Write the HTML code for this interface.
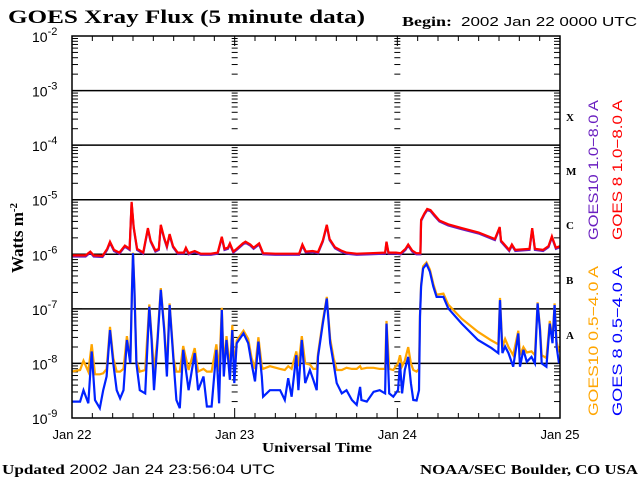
<!DOCTYPE html>
<html><head><meta charset="utf-8"><style>
html,body{margin:0;padding:0;background:#fff;}
svg{display:block;}
.serif{font-family:"Liberation Serif",serif;font-weight:bold;}
.sans{font-family:"Liberation Sans",sans-serif;}
</style></head><body>
<svg id="chart" width="640" height="480" viewBox="0 0 640 480">
<text x="8" y="23" class="serif" font-size="19" textLength="357" lengthAdjust="spacingAndGlyphs">GOES Xray Flux (5 minute data)</text>
<text x="402" y="26" class="serif" font-size="14" textLength="50" lengthAdjust="spacingAndGlyphs">Begin:</text>
<text x="461" y="26" class="sans" font-size="13" textLength="176" lengthAdjust="spacingAndGlyphs">2002 Jan 22 0000 UTC</text>
<text transform="translate(23,238) rotate(-90)" text-anchor="middle" class="serif" font-size="17">Watts m<tspan dy="-6" font-size="11">-2</tspan></text>
<text x="262" y="452" class="serif" font-size="14" textLength="110" lengthAdjust="spacingAndGlyphs">Universal Time</text>
<text x="2" y="474" class="sans" font-size="14" textLength="273" lengthAdjust="spacingAndGlyphs"><tspan class="serif">Updated</tspan> 2002 Jan 24 23:56:04 UTC</text>
<text x="420" y="474" class="serif" font-size="14" textLength="218" lengthAdjust="spacingAndGlyphs">NOAA/SEC Boulder, CO USA</text>
<g class="serif" font-size="11">
<text x="566" y="121">X</text>
<text x="566" y="175">M</text>
<text x="566" y="229">C</text>
<text x="566" y="284">B</text>
<text x="566" y="339">A</text>
</g>
<g class="sans" font-size="14">
<text transform="translate(598,240) rotate(-90)" fill="#6a1fc0" textLength="140" lengthAdjust="spacingAndGlyphs">GOES10 1.0−8.0 A</text>
<text transform="translate(622,240) rotate(-90)" fill="#ff0000" textLength="140" lengthAdjust="spacingAndGlyphs">GOES 8 1.0−8.0 A</text>
<text transform="translate(598,416) rotate(-90)" fill="#ffa500" textLength="150" lengthAdjust="spacingAndGlyphs">GOES10 0.5−4.0 A</text>
<text transform="translate(622,416) rotate(-90)" fill="#0000ff" textLength="150" lengthAdjust="spacingAndGlyphs">GOES 8 0.5−4.0 A</text>
</g>
<g id="axes"></g>
<g id="series"></g>
<rect x="72" y="36" width="488" height="382" fill="none" stroke="#000" stroke-width="1.5"/>
</svg>
<script>
const dayLabels = ["Jan 22","Jan 23","Jan 24","Jan 25"];
const decadeExps = [-2,-3,-4,-5,-6,-7,-8,-9];

const longTimes = [0,2.0,2.7,3.2,4.5,5.2,5.6,6.2,7.0,7.8,8.5,8.8,9.1,9.6,10.5,11.2,11.6,12.3,12.8,13.1,13.6,14.0,14.4,14.9,15.6,16.5,16.8,17.2,18.1,19,20.5,21.5,22.1,22.5,23.0,23.3,23.8,
24.3,25.2,25.6,26.3,26.8,27.6,28.2,30,32,33.5,34.0,34.5,35.5,36.3,37.0,37.6,38.0,38.8,39.7,40.5,42,44,46.2,46.4,46.7,47.8,
48.5,49.2,49.6,50.2,50.8,51.4,51.5,52.0,52.4,52.9,53.5,54.2,55.5,57.5,60,62.4,63.1,63.3,64.5,64.9,65.4,67.5,67.9,68.3,69.5,70.3,70.8,71.4,72];
const goes8LongLog = [-6.02,-6.02,-5.95,-6.02,-6.03,-5.9,-5.77,-5.92,-5.97,-5.84,-5.9,-5.04,-5.5,-5.9,-5.97,-5.52,-5.75,-5.93,-5.9,-5.46,-5.7,-5.85,-5.63,-5.85,-5.97,-5.97,-5.88,-5.98,-5.94,-5.99,-5.99,-5.97,-5.68,-5.9,-5.88,-5.8,-5.95,
-5.9,-5.8,-5.77,-5.82,-5.88,-5.8,-5.98,-5.99,-5.99,-5.99,-5.82,-5.95,-5.94,-5.96,-5.75,-5.46,-5.72,-5.87,-5.93,-5.97,-5.99,-5.98,-5.97,-5.77,-5.97,-5.97,
-5.98,-5.9,-5.82,-5.93,-5.98,-5.98,-5.37,-5.25,-5.17,-5.19,-5.28,-5.38,-5.45,-5.52,-5.6,-5.72,-5.5,-5.75,-5.92,-5.82,-5.92,-5.9,-5.52,-5.9,-5.92,-5.85,-5.67,-5.88,-5.85];
const goes10LongLog = [-6.04,-6.04,-5.97,-6.04,-6.05,-5.92,-5.79,-5.94,-5.99,-5.86,-5.92,-5.06,-5.52,-5.92,-5.99,-5.54,-5.77,-5.95,-5.92,-5.48,-5.72,-5.87,-5.65,-5.87,-5.99,-5.99,-5.9,-6.0,-5.96,-6.01,-6.01,-5.99,-5.7,-5.92,-5.9,-5.82,-5.97,
-5.92,-5.82,-5.79,-5.84,-5.9,-5.82,-6.0,-6.01,-6.01,-6.01,-5.84,-5.97,-5.96,-5.98,-5.77,-5.48,-5.74,-5.89,-5.95,-5.99,-6.01,-6.0,-5.99,-5.79,-5.99,-5.99,
-6.0,-5.92,-5.84,-5.95,-6.0,-6.0,-5.39,-5.27,-5.19,-5.21,-5.3,-5.4,-5.47,-5.54,-5.62,-5.74,-5.52,-5.77,-5.94,-5.84,-5.94,-5.92,-5.54,-5.92,-5.94,-5.87,-5.69,-5.9,-5.87];

const shortTimes = [0,1.2,1.7,2.4,2.9,3.4,4.1,4.6,5.1,5.6,6.1,6.6,7.1,7.6,8.1,8.6,8.85,9.0,9.2,9.5,10.0,10.8,11.4,11.75,12.1,12.6,13.1,13.6,14.0,14.4,15.0,15.4,15.9,16.4,17.2,18.1,18.6,19.4,19.9,20.6,21.3,21.7,22.1,22.4,22.8,23.3,23.65,23.95,
24.3,25.3,26.0,26.5,27.0,27.5,28.0,28.2,29.2,30.7,31.4,31.9,32.4,33.1,33.4,33.9,34.4,35.1,35.6,36.1,36.3,37.0,37.6,38.1,38.6,39.05,39.8,40.5,41.3,42.0,42.5,42.7,43.5,44.5,45.4,46.2,46.4,46.8,47.4,
48.1,48.4,48.7,49.1,49.6,50.0,50.35,50.85,51.2,51.35,51.5,51.8,52.3,52.8,53.3,53.8,54.8,55.5,57.5,59.9,61.9,62.9,63.15,63.5,63.9,64.4,65.1,65.85,66.1,66.6,67.1,67.8,68.3,68.7,69.05,69.3,70.0,70.5,70.9,71.2,71.5,71.85];
const goes8ShortLog = [-8.70,-8.70,-8.49,-8.73,-7.78,-8.67,-8.82,-8.49,-8.24,-7.39,-8.0,-8.49,-8.64,-8.49,-7.57,-8.0,-6.65,-5.98,-6.65,-8.0,-8.49,-8.55,-6.96,-7.57,-8.49,-7.63,-6.65,-7.39,-8.24,-6.93,-8.0,-8.67,-8.82,-7.75,-8.49,-7.81,-8.49,-8.24,-8.79,-8.79,-7.75,-8.73,-7.02,-8.24,-7.57,-8.30,-7.39,-8.36,
-7.63,-7.45,-7.63,-8.0,-8.33,-7.60,-8.24,-8.61,-8.49,-8.49,-8.67,-8.27,-8.61,-7.85,-8.49,-7.57,-8.36,-8.12,-8.30,-8.49,-7.88,-7.27,-6.81,-7.63,-8.0,-8.36,-8.55,-8.49,-8.67,-8.76,-8.43,-8.67,-8.70,-8.52,-8.49,-8.55,-7.27,-8.55,-8.61,
-8.49,-8.0,-8.55,-8.12,-7.88,-8.36,-8.67,-8.68,-8.49,-7.14,-6.59,-6.26,-6.18,-6.32,-6.59,-6.78,-6.78,-6.99,-7.27,-7.57,-7.72,-7.81,-6.84,-7.81,-7.69,-7.81,-8.06,-7.45,-8.06,-7.75,-7.97,-7.88,-8.0,-6.90,-7.39,-8.0,-8.06,-7.27,-7.63,-6.93,-7.69,-8.0];
const goes10ShortLog = [-8.15,-8.12,-7.95,-8.15,-7.65,-8.2,-8.2,-8.18,-8.1,-7.33,-7.9,-8.15,-8.15,-8.1,-7.5,-7.95,-6.6,-5.97,-6.6,-7.95,-8.15,-8.12,-6.92,-7.5,-8.15,-7.55,-6.62,-7.33,-8.1,-6.9,-7.92,-8.15,-8.15,-7.68,-8.12,-7.72,-8.15,-8.1,-8.15,-8.15,-7.65,-8.15,-6.98,-8.05,-7.5,-8.1,-7.3,-8.1,
-7.58,-7.4,-7.55,-7.9,-8.1,-7.52,-8.05,-8.1,-8.05,-8.1,-8.12,-8.05,-8.1,-7.78,-8.05,-7.5,-8.0,-8.02,-8.1,-8.1,-7.82,-7.22,-6.78,-7.55,-7.9,-8.12,-8.12,-8.08,-8.1,-8.1,-8.05,-8.1,-8.08,-8.08,-8.1,-8.1,-7.22,-8.1,-8.12,
-8.0,-7.85,-8.05,-7.95,-7.7,-8.0,-8.12,-8.15,-8.1,-7.1,-6.55,-6.22,-6.15,-6.28,-6.54,-6.74,-6.72,-6.92,-7.18,-7.42,-7.58,-7.65,-6.8,-7.7,-7.55,-7.7,-7.85,-7.4,-7.85,-7.7,-7.8,-7.78,-7.85,-6.88,-7.35,-7.85,-7.9,-7.22,-7.55,-6.9,-7.6,-7.8];

const X0=72, X1=560, Y0=36, Y1=418;
function xs(h){return X0+(X1-X0)*h/72;}
function ys(e){return Y0+(Y1-Y0)*(-2-e)/7;}
const NS="http://www.w3.org/2000/svg";
function mk(tag,attrs,parent){const el=document.createElementNS(NS,tag);for(const k in attrs)el.setAttribute(k,attrs[k]);parent.appendChild(el);return el;}
const axes=document.getElementById('axes');
const series=document.getElementById('series');

decadeExps.forEach(function(e){
  const y=ys(e);
  if(e<-2&&e>-9){
    const ln=mk('line',{x1:X0,x2:X1,y1:y,y2:y,stroke:'#000','stroke-width':1.5},axes);
    
    
  }
  const t=mk('text',{x:32,y:y+6,'font-family':'Liberation Sans, sans-serif','font-size':14},axes);
  
  
  t.textContent='10';
  const s=mk('tspan',{dy:-7,'font-size':11},t);
  s.textContent=String(e);
});
for(let d=-3; d>=-9; d--){
  for(let m=2;m<=9;m++){
    const y=ys(d+Math.log10(m));
    [[X0,X0+6],[X1-6,X1],[xs(24)-3,xs(24)+3],[xs(48)-3,xs(48)+3]].forEach(function(p){
      const tk=mk('line',{x1:p[0],x2:p[1],y1:y,y2:y,stroke:'#000','stroke-width':1},axes);
      
      
    });
  }
  [[X0,X0+10],[X1-10,X1],[xs(24)-5,xs(24)+5],[xs(48)-5,xs(48)+5]].forEach(function(p){
    const yy=ys(d);
    const tk=mk('line',{x1:p[0],x2:p[1],y1:yy,y2:yy,stroke:'#000','stroke-width':1},axes);
    
    
  });
}
for(let h=0;h<=72;h+=3){
  const x=xs(h); const L=(h%24===0)?10:5;
  const a=mk('line',{x1:x,x2:x,y1:Y1,y2:Y1-L,stroke:'#000','stroke-width':1},axes);
  
  
  const b=mk('line',{x1:x,x2:x,y1:Y0,y2:Y0+L,stroke:'#000','stroke-width':1},axes);
  
  
}
dayLabels.forEach(function(lbl,i){
  const t=mk('text',{x:xs(i*24),y:439,'text-anchor':'middle','font-family':'Liberation Sans, sans-serif','font-size':13},axes);
  
  
  t.textContent=lbl;
});

function drawLine(times,vals,color,name){
  let d='';
  for(let i=0;i<times.length;i++){
    d+=(i?'L':'M')+xs(times[i]).toFixed(1)+','+ys(vals[i]).toFixed(1);
  }
  const p=mk('path',{d:d,fill:'none',stroke:color,'stroke-width':2.2,'stroke-linejoin':'miter'},series);
  
  
}
drawLine(longTimes,goes10LongLog,'#6a1fc0','goes10-long-line');
drawLine(longTimes,goes8LongLog,'#ff0000','goes8-long-line');
drawLine(shortTimes,goes10ShortLog,'#ffa500','goes10-short-line');
drawLine(shortTimes,goes8ShortLog,'#0022ff','goes8-short-line');
</script>
</body></html>
